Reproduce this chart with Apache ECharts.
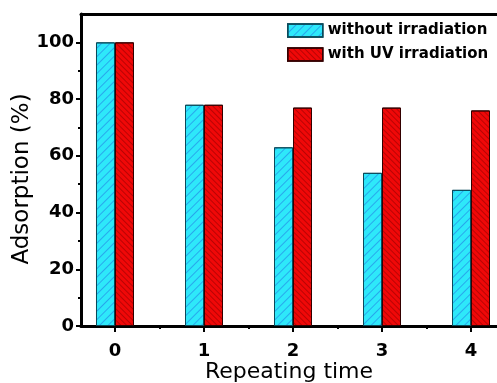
<!DOCTYPE html>
<html><head><meta charset="utf-8">
<script src="https://cdn.jsdelivr.net/npm/echarts@6/dist/echarts.min.js"></script>
<style>html,body{margin:0;padding:0;background:#fff}#c{width:497px;height:383px}</style>
</head><body><div id="c"></div>
<script>
const categories = [0, 1, 2, 3, 4];
const withoutIrradiation = [100, 78, 63, 54, 48];
const withUV = [100, 78, 77, 77, 76];
const yTicks = [0, 20, 40, 60, 80, 100];
const yMinor = [10, 30, 50, 70, 90];
const xMinor = [0.5, 1.5, 2.5, 3.5];

const font = 'DejaVu Sans, sans-serif';
const chart = echarts.init(document.getElementById('c'), null, {renderer: 'canvas'});
const pair = (vals) => categories.map((c, i) => [c, vals[i]]);
const XMIN = -0.382, XMAX = 4.292;

chart.setOption({
  animation: false,
  grid: {left: 81, top: 14, right: 0, bottom: 57, outerBoundsMode: 'none', containLabel: false},
  xAxis: [{
    type: 'value', min: XMIN, max: XMAX,
    name: 'Repeating time', nameLocation: 'middle', nameGap: 35, nameMoveOverlap: false,
    nameTextStyle: {fontFamily: font, fontSize: 22, color: '#000'},
    axisLine: {onZero: false, lineStyle: {color: '#000', width: 3}},
    axisTick: {customValues: categories, length: 6, lineStyle: {width: 2, color: '#000'}},
    axisLabel: {customValues: categories, fontFamily: font, fontWeight: 'bold', fontSize: 18, color: '#000', margin: 16},
    splitLine: {show: false}
  }, {
    type: 'value', min: XMIN, max: XMAX, position: 'bottom',
    axisLine: {show: false, onZero: false},
    axisTick: {customValues: xMinor, length: 3, lineStyle: {width: 2, color: '#000'}},
    axisLabel: {show: false}, splitLine: {show: false}
  }, {
    type: 'value', min: XMIN, max: XMAX, position: 'top',
    axisLine: {show: true, onZero: false, lineStyle: {color: '#000', width: 3}},
    axisTick: {show: false}, axisLabel: {show: false}, splitLine: {show: false}
  }],
  yAxis: [{
    type: 'value', min: 0, max: 110,
    name: 'Adsorption (%)', nameLocation: 'middle', nameGap: 47, nameMoveOverlap: false,
    nameTextStyle: {fontFamily: font, fontSize: 23, color: '#000', padding: [0, 18, 0, 0]},
    axisLine: {show: true, onZero: false, lineStyle: {color: '#000', width: 3}},
    axisTick: {show: true, customValues: yTicks, length: 5, lineStyle: {width: 2, color: '#000'}},
    axisLabel: {customValues: yTicks, fontFamily: font, fontWeight: 'bold', fontSize: 18, color: '#000', margin: 7},
    splitLine: {show: false}
  }, {
    type: 'value', min: 0, max: 110, position: 'left',
    axisLine: {show: false, onZero: false},
    axisTick: {show: true, customValues: yMinor, length: 3, lineStyle: {width: 2, color: '#000'}},
    axisLabel: {show: false}, splitLine: {show: false}
  }],
  legend: {
    orient: 'vertical', left: 282, top: 18, itemWidth: 35, itemHeight: 13, itemGap: 9,
    icon: 'rect',
    textStyle: {fontFamily: font, fontWeight: 'bold', fontSize: 15, color: '#000'},
    itemStyle: {borderWidth: 1.5}
  },
  series: [{
    name: 'without irradiation', type: 'bar', data: pair(withoutIrradiation),
    barWidth: 19, barGap: '0%',
    itemStyle: {color: '#2ee8fa', borderColor: '#0a4a5a', borderWidth: 1,
      decal: {symbol: 'rect', symbolSize: 1, dashArrayX: [1, 0], dashArrayY: [1, 5], rotation: -Math.PI / 4, color: 'rgba(30,90,220,0.45)'}}
  }, {
    name: 'with UV irradiation', type: 'bar', data: pair(withUV),
    barWidth: 19, barGap: '0%',
    itemStyle: {color: '#f00808', borderColor: '#300', borderWidth: 1,
      decal: {symbol: 'rect', symbolSize: 1, dashArrayX: [1, 0], dashArrayY: [1, 3], rotation: Math.PI / 4, color: 'rgba(130,0,0,0.5)'}}
  }]
});
</script></body></html>
